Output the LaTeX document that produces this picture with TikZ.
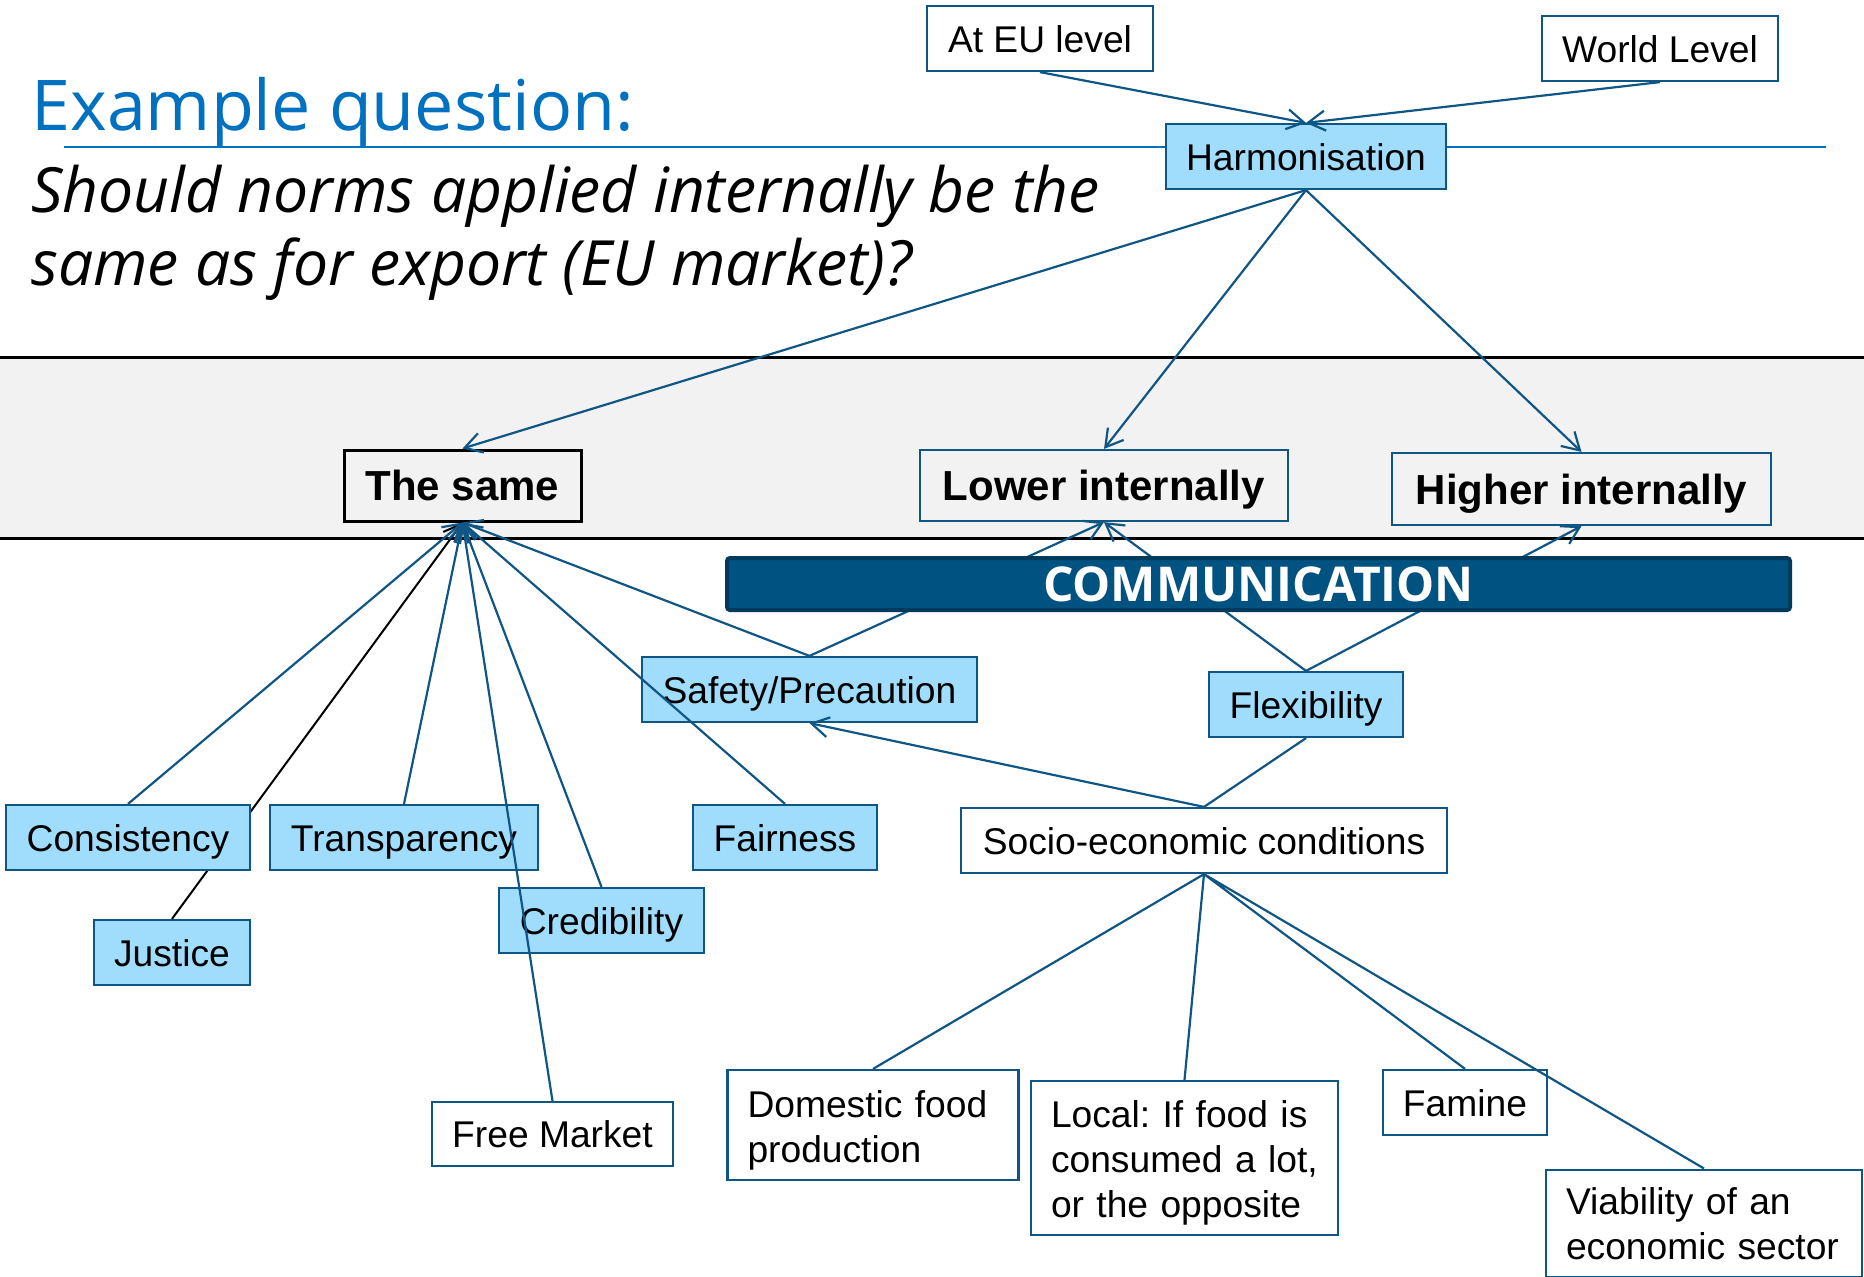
\documentclass[tikz,border=0pt]{standalone}
\usepackage{fontspec}
\setmainfont{Liberation Sans}
\newfontfamily\segoe{Open Sans}
\usetikzlibrary{arrows.meta}
\definecolor{linkblue}{RGB}{16,86,132}
\definecolor{paleblue}{RGB}{160,220,252}
\definecolor{commblue}{RGB}{0,82,128}
\definecolor{commedge}{RGB}{0,58,92}
\definecolor{titleblue}{RGB}{0,112,192}
\definecolor{bandgray}{RGB}{242,242,242}
\frenchspacing
\begin{document}
\begin{tikzpicture}[x=0.5pt,y=-0.5pt,
    every node/.style={font=\fontsize{18.6}{22.5}\selectfont},
    box/.style={draw=linkblue,line width=1.1pt,fill=white,inner sep=0pt,minimum height=32.5pt},
    item/.style={box,text height=13.6pt,text depth=0pt},
    value/.style={item,fill=paleblue},
    note/.style={box,align=left,inner xsep=10pt},
    choice/.style={box,fill=none,font=\fontsize{21}{25}\selectfont\bfseries,text height=15pt,text depth=0pt,minimum height=35.5pt},
    link/.style={draw=linkblue,line width=1.1pt},
    toward/.style={link,-{Straight Barb[length=8.5pt,width=10pt]}}]
      \useasboundingbox (0,0) rectangle (1864,1276);
      \fill[bandgray] (0,357) rectangle (1864,538);
      \draw[line width=1.5pt] (0,357)--(1864,357) (0,538)--(1864,538);

      \draw[titleblue,line width=1.2pt] (64,147)--(1826,147);
      \node[anchor=base west,inner sep=0pt,text=titleblue,font=\segoe\fontsize{35}{40}\selectfont](title) at (31,130) {Example question:};
      \node[anchor=base west,inner sep=0pt,font=\segoe\itshape\fontsize{31.2}{36}\selectfont](ask1) at (31,212) {Should norms applied internally be the};
      \node[anchor=base west,inner sep=0pt,font=\segoe\itshape\fontsize{31.2}{36}\selectfont](ask2) at (31,285) {same as for export (EU market)?};

      \node[item,minimum width=113pt](eu) at (1040,38.5) {At EU level};
      \node[item,minimum width=118pt](world) at (1660,48.5) {World Level};
      \node[value,minimum width=140pt](harm) at (1306,156.5) {Harmonisation};
      \draw[toward] (eu.south)--(harm.north);
      \draw[toward] (world.south)--(harm.north);

      \node[choice,draw=black,line width=1.5pt,minimum width=118.5pt](same) at (462.5,485.5) {The same};
      \node[choice,minimum width=184pt](lower) at (1104,485.5) {Lower internally};
      \node[choice,minimum width=189.5pt,minimum height=36pt](higher) at (1581.5,489) {Higher internally};
      \draw[toward] (harm.south)--(same.north);
      \draw[toward] (harm.south)--(lower.north);
      \draw[toward] (harm.south)--(higher.north);

      \node[value,minimum width=167.5pt](safety) at (809.5,689.5) {Safety/Precaution};
      \node[value,minimum width=97pt](flex) at (1306,704.5) {Flexibility};
      \draw[toward] (safety.north)--(lower.south);
      \draw[toward] (flex.north)--(lower.south);
      \draw[toward] (flex.north)--(higher.south);
      \node[fill=commblue,draw=commedge,line width=2pt,rounded corners=1.5pt,minimum width=531.5pt,minimum height=26pt,inner sep=0pt,text=white,font=\segoe\bfseries\fontsize{24}{26}\selectfont](comm) at (1258.5,584) {COMMUNICATION};

      \node[value,minimum width=78pt](justice) at (172,952.5) {Justice};
      \draw[black,line width=1pt,-{Straight Barb[length=8.5pt,width=10pt]}] (justice.north)--(same.south);
      \node[value,minimum width=122pt](consist) at (128,837.5) {Consistency};
      \node[value,minimum width=134pt](transp) at (404,837.5) {Transparency};
      \node[value,minimum width=102.5pt](cred) at (601.5,920.5) {Credibility};
      \node[value,minimum width=92pt](fair) at (785,837.5) {Fairness};
      \node[item,minimum width=120.5pt,minimum height=32pt](free) at (552.5,1134) {Free Market};
      \draw[toward] (consist.north)--(same.south);
      \draw[toward] (transp.north)--(same.south);
      \draw[toward] (cred.north)--(same.south);
      \draw[toward] (free.north)--(same.south);
      \draw[toward] (fair.north)--(same.south);
      \draw[toward] (safety.north)--(same.south);

      \node[item,minimum width=243pt](socio) at (1204,840.5) {Socio-economic conditions};
      \draw[toward] (socio.north)--(safety.south);
      \draw[link] (socio.north)--(flex.south);

      \node[note,text width=125.5pt,minimum height=55pt](food) at (873,1125) {\rule{0pt}{18.4pt}Domestic food\\production};
      \node[note,text width=133.5pt,minimum height=77pt](local) at (1184.5,1158) {\rule{0pt}{18.4pt}Local: If food is\\consumed a lot,\\or the opposite};
      \node[item,minimum width=82pt](famine) at (1465,1102.5) {Famine};
      \node[note,anchor=north,text width=138pt,minimum height=53.6pt](sector) at (1704,1168.5) {Viability of an\\economic sector};
      \draw[link] (socio.south)--(food.north) (socio.south)--(local.north)
        (socio.south)--(famine.north) (socio.south)--(sector.north);
\end{tikzpicture}
\end{document}
